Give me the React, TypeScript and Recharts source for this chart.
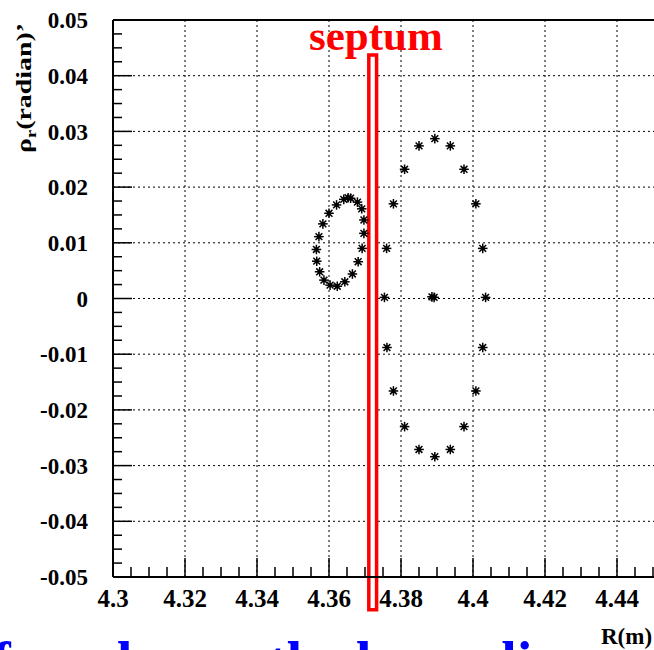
import { ScatterChart, Scatter, XAxis, YAxis, CartesianGrid, ReferenceLine, ReferenceArea } from 'recharts';

// small ellipse left of the septum
const innerR = [4.3565, 4.3566, 4.3572, 4.3574, 4.3583, 4.3586, 4.36, 4.3603, 4.3621, 4.3623, 4.3641, 4.3644, 4.3653, 4.366, 4.3665, 4.3679, 4.3681, 4.3691, 4.3692, 4.3697, 4.3697];
const innerP = [0.0088, 0.0067, 0.0111, 0.0048, 0.0134, 0.0033, 0.0153, 0.0024, 0.0168, 0.0022, 0.0178, 0.003, 0.0181, 0.018, 0.0044, 0.0173, 0.0066, 0.0161, 0.009, 0.0141, 0.0117];

// big ring right of the septum (+ fixed point in the middle)
const outerR = [4.3894, 4.385, 4.3937, 4.381, 4.3975, 4.3779, 4.4008, 4.376, 4.4027, 4.3754, 4.4035, 4.3761, 4.4027, 4.3779, 4.4008, 4.381, 4.3975, 4.385, 4.3937, 4.3894, 4.3886, 4.3892];
const outerP = [0.0287, 0.0274, 0.0274, 0.0232, 0.0232, 0.017, 0.017, 0.009, 0.009, 0.0002, 0.0002, -0.0088, -0.0088, -0.0166, -0.0166, -0.023, -0.023, -0.0271, -0.0271, -0.0284, 0.0003, 0.0002];

const xTicks = [4.3, 4.32, 4.34, 4.36, 4.38, 4.4, 4.42, 4.44, 4.46];
const yTicks = [0.05, 0.04, 0.03, 0.02, 0.01, 0, -0.01, -0.02, -0.03, -0.04, -0.05];

const septum = { r1: 4.37106, r2: 4.37322, p1: -0.0559, p2: 0.0437 };

const minorTicks = (lo: number, hi: number, step: number) => {
  const out: number[] = [];
  for (let i = 0; ; i++) {
    const v = +(lo + i * step).toFixed(5);
    if (v > hi + 1e-9) break;
    out.push(v);
  }
  return out;
};
const xAllTicks = minorTicks(4.3, 4.46, 0.005);
const yAllTicks = minorTicks(-0.05, 0.05, 0.0025);

const inner = innerR.map((r, i) => ({ x: r, y: innerP[i] }));
const outer = outerR.map((r, i) => ({ x: r, y: outerP[i] }));

const serif = '"Liberation Serif", "Times New Roman", serif';
const xDomain = [4.3, 4.46];
const yDomain = [-0.05, 0.05];

const isMajor = (v: number, list: number[]) => list.some((t) => Math.abs(t - v) < 1e-9);

// tick marks point into the frame, labels only on the major ones
const YTick = (props: any) => {
  const { x, y, payload } = props;
  const major = isMajor(payload.value, yTicks);
  return (
    <g>
      <line x1={x} y1={y} x2={x + (major ? 19 : 9)} y2={y} stroke="#000" strokeWidth={1.5} />
      {major && (
        <text x={x - 25} y={y} dy="0.355em" textAnchor="end" fill="#000" fontSize={23} fontWeight="bold" fontFamily={serif}>
          {String(payload.value)}
        </text>
      )}
    </g>
  );
};

const XTick = (props: any) => {
  const { x, y, payload } = props;
  const major = isMajor(payload.value, xTicks);
  return (
    <g>
      <line x1={x} y1={y} x2={x} y2={y - (major ? 19 : 10)} stroke="#000" strokeWidth={1.5} />
      {major && (
        <text x={x} y={y + 12} dy="0.71em" textAnchor="middle" fill="#000" fontSize={25} fontWeight="bold" fontFamily={serif}>
          {String(payload.value)}
        </text>
      )}
    </g>
  );
};

const Asterisk = (props: any) => {
  const { cx, cy } = props;
  const s = 4.8;
  const d = 3.4;
  return (
    <g stroke="#000" strokeWidth={1.5}>
      <line x1={cx - s} y1={cy} x2={cx + s} y2={cy} />
      <line x1={cx} y1={cy - s} x2={cx} y2={cy + s} />
      <line x1={cx - d} y1={cy - d} x2={cx + d} y2={cy + d} />
      <line x1={cx - d} y1={cy + d} x2={cx + d} y2={cy - d} />
      <circle cx={cx} cy={cy} r={2.2} fill="#000" stroke="none" />
    </g>
  );
};

const App = () => {
  return (
    <div style={{ position: 'absolute', left: 0, top: 0, width: 654, height: 650, overflow: 'hidden', background: '#fff' }}>
      <ScatterChart width={700} height={650} margin={{ top: 20, right: 11, bottom: 33, left: 53 }}>
        <CartesianGrid stroke="#000" strokeDasharray="2 3" verticalValues={xTicks} horizontalValues={yTicks} />
        <XAxis
          type="number"
          dataKey="x"
          domain={xDomain}
          ticks={xAllTicks}
          interval={0}
          allowDataOverflow
          height={40}
          tickLine={false}
          tickSize={0}
          tickMargin={0}
          axisLine={{ stroke: '#000', strokeWidth: 2 }}
          tick={<XTick />}
        />
        <YAxis
          type="number"
          dataKey="y"
          domain={yDomain}
          ticks={yAllTicks}
          interval={0}
          allowDataOverflow
          width={60}
          tickLine={false}
          tickSize={0}
          tickMargin={0}
          axisLine={{ stroke: '#000', strokeWidth: 2 }}
          tick={<YTick />}
        />
        <ReferenceLine y={0.05} stroke="#000" strokeWidth={2} ifOverflow="visible" />
        <ReferenceArea
          x1={septum.r1}
          x2={septum.r2}
          y1={septum.p1}
          y2={septum.p2}
          ifOverflow="visible"
          fill="#fff"
          fillOpacity={1}
          stroke="#ff0000"
          strokeWidth={3.5}
        />
        <Scatter data={inner} dataKey="y" shape={Asterisk} isAnimationActive={false} />
        <Scatter data={outer} dataKey="y" shape={Asterisk} isAnimationActive={false} />
      </ScatterChart>
      <svg width={654} height={650} style={{ position: 'absolute', left: 0, top: 0, pointerEvents: 'none' }}>
        <text x={309} y={50} fill="#ff0000" fontSize={43} fontWeight="bold" fontFamily={serif}>septum</text>
        <text
          transform="translate(31,153) rotate(-90)"
          fill="#000"
          fontSize={21}
          fontWeight="bold"
          fontFamily={serif}
          textLength={130}
          lengthAdjust="spacingAndGlyphs"
        >
          ρ<tspan fontSize={14} dy={5}>r</tspan><tspan dy={-5}>(radian)’</tspan>
        </text>
        <text x={601} y={644} fill="#000" fontSize={23} fontWeight="bold" fontFamily={serif}>R(m)</text>
      </svg>
      {/* big blue caption below the frame, only the tops of its tall letters show */}
      <div
        style={{
          position: 'absolute',
          left: -8,
          top: 634,
          fontSize: 56,
          lineHeight: '56px',
          fontWeight: 'bold',
          fontFamily: serif,
          color: '#0000ff',
          whiteSpace: 'nowrap',
        }}
      >
        found near the beam line
      </div>
    </div>
  );
};

export default App;
